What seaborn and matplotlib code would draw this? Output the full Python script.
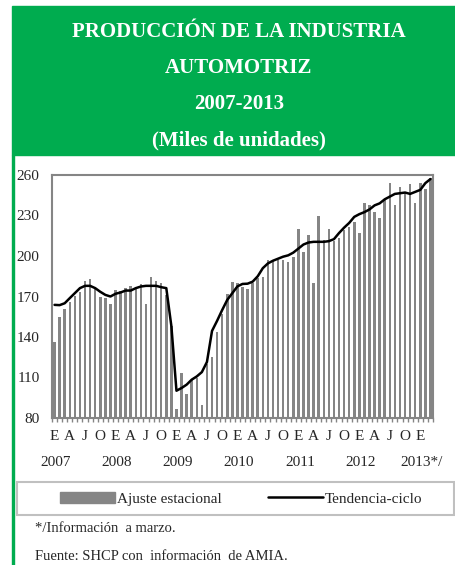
import numpy as np
import pandas as pd
import seaborn as sns
import matplotlib.pyplot as plt
import matplotlib.patches as mpatches
from matplotlib.lines import Line2D

# Produccion mensual, ene-2007 a mar-2013 (miles de unidades)
meses = list(range(75))
ajuste = [136.5, 155, 161, 166, 170.5, 173.5, 181.5, 183, 176, 169.5, 169, 164.5,
          175, 174, 176.5, 178, 177, 179.5, 164.2, 184.5, 181.5, 179.8, 171, 148.5,
          86.5, 113, 97.5, 108, 109.5, 89.8, 120, 125.5, 144, 157, 172, 181,
          179.8, 177, 175.4, 179.9, 183.6, 184.8, 197, 196, 197, 197, 195.4, 199.6,
          220, 203.3, 215.6, 179.9, 229.7, 212, 220, 211, 213.5, 219.5, 221.5, 225,
          217.3, 239, 237.5, 232.8, 228, 242, 254.3, 237.8, 251.3, 247.6, 253.1, 239,
          254.2, 249.3, 257.8]
tendencia = [163.8, 163.6, 165, 168.8, 172.5, 176.2, 177.9, 177.9, 176.2, 173.5, 171.2, 170,
             172, 173, 174.4, 174.4, 176.2, 177.4, 177.9, 177.9, 177.9, 176.9, 176.2, 148,
             100.2, 102.2, 104.7, 108.4, 110.8, 114, 121.5, 144.5, 152, 160, 167.5, 172.5,
             177.5, 179.3, 179.5, 181, 185, 191, 194.5, 196.5, 198, 199.5, 200.5, 202.5,
             205.5, 208.5, 210, 210.5, 210.5, 210.5, 211, 212.5, 217, 221, 224.5, 229,
             231, 232.5, 234.5, 237.5, 239, 242, 244, 246, 246.5, 247, 246, 247.5,
             249, 254, 257]
letras = ["E", "A", "J", "O"]
anios = ["2007", "2008", "2009", "2010", "2011", "2012", "2013*/"]
y_ticks = [80, 110, 140, 170, 200, 230, 260]

df = pd.DataFrame({"mes": meses, "ajuste": ajuste, "tendencia": tendencia})

sns.set_style("white")
plt.rcParams["font.family"] = ["Liberation Serif", "DejaVu Serif"]

verde = "#00ac4f"
gris = "#858585"

fig = plt.figure(figsize=(4.56, 5.65), dpi=100)

# encabezado verde y borde izquierdo
fig.patches.append(mpatches.Rectangle((12 / 456, 1 - 155 / 565), 1 - 12 / 456, 149 / 565,
                                      transform=fig.transFigure, color=verde, zorder=0))
fig.patches.append(mpatches.Rectangle((12 / 456, 0), 2 / 456, 1 - 155 / 565,
                                      transform=fig.transFigure, color=verde, zorder=0))
titulos = ["PRODUCCIÓN DE LA INDUSTRIA", "AUTOMOTRIZ", "2007-2013", "(Miles de unidades)"]
for i, t in enumerate(titulos):
    fig.text(0.524, 1 - (32 + 36 * i) / 565, t, color="white", fontsize=15,
             fontweight="bold", ha="center", va="center")

ax = fig.add_axes([52 / 456, 147 / 565, 381 / 456, 243 / 565])
sns.barplot(data=df, x="mes", y="ajuste", native_scale=True, color=gris,
            width=0.5, saturation=1, linewidth=0, ax=ax)
sns.lineplot(data=df, x="mes", y="tendencia", color="black", linewidth=1.8, ax=ax)

ax.set_xlim(-0.5, 74.5)
ax.set_ylim(80, 260)
ax.set_yticks(y_ticks)
ax.tick_params(axis="y", length=0, pad=9, labelsize=11)
ax.set_xticks(range(0, 75, 3))
ax.set_xticklabels([letras[k % 4] for k in range(25)])
ax.set_xticks(np.arange(-0.5, 75, 1), minor=True)
ax.tick_params(axis="x", which="major", length=0, pad=9, labelsize=11)
ax.tick_params(axis="x", which="minor", length=3, width=1, color=gris, bottom=True)
ax.set_xlabel("")
ax.set_ylabel("")
for s in ax.spines.values():
    s.set_color(gris)
    s.set_linewidth(1.5)

for k, a in enumerate(anios):
    ax.text(k * 12 + 0.3, -0.185, a, transform=ax.get_xaxis_transform(),
            ha="center", va="center", fontsize=11)

# leyenda
fig.patches.append(mpatches.Rectangle((17 / 456, 1 - 515 / 565), 437 / 456, 33 / 565,
                                      transform=fig.transFigure, fill=False,
                                      edgecolor="#c0c0c0", linewidth=1.5))
handles = [mpatches.Patch(color=gris, label="Ajuste estacional"),
           Line2D([], [], color="black", linewidth=1.8, label="Tendencia-ciclo")]
fig.legend(handles=handles, loc="center", bbox_to_anchor=(241 / 456, 1 - 499 / 565),
           ncol=2, frameon=False, fontsize=11, handlelength=3.6, handleheight=0.7,
           handletextpad=0.15, columnspacing=3.0)

fig.text(35 / 456, 1 - 528 / 565, "*/Información  a marzo.", fontsize=10.5, va="center")
fig.text(35 / 456, 1 - 557 / 565, "Fuente: SHCP con  información  de AMIA.",
         fontsize=10.5, va="center")

fig.savefig("out.png", dpi=100)
